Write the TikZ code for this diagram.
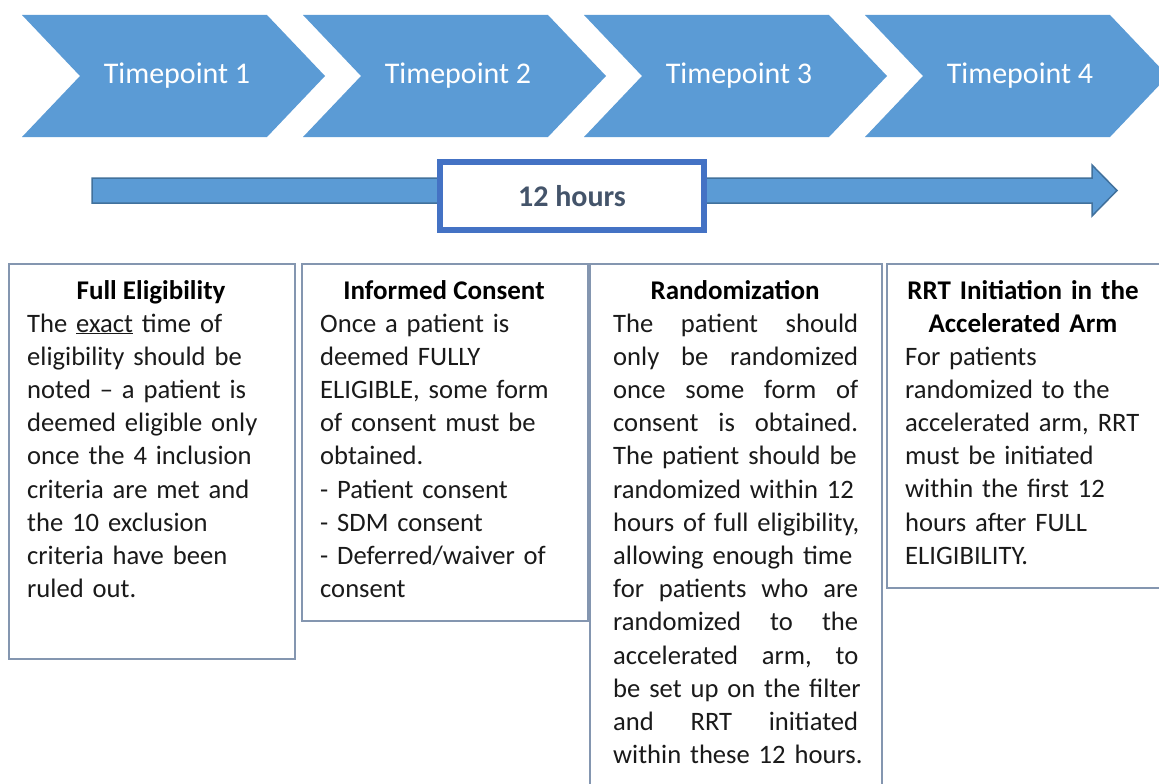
\documentclass[tikz,border=0pt]{standalone}
\usepackage{fontspec}
\setmainfont{Carlito}
\definecolor{chevblue}{HTML}{5B9BD5}
\definecolor{arrowline}{HTML}{41719C}
\definecolor{hoursline}{HTML}{4472C4}
\definecolor{hourstext}{HTML}{44546A}
\definecolor{boxline}{HTML}{8496B0}
\definecolor{bodytext}{HTML}{1A1A1A}
\tikzset{
  chev/.style={fill=chevblue},
  tp/.style={text=white, font=\fontsize{30}{36}\selectfont, inner sep=0pt},
  hoursbox/.style={draw=hoursline, line width=6pt, fill=white, minimum width=264pt, minimum height=68pt, inner sep=0pt, text=hourstext, font=\fontsize{30}{34}\selectfont\bfseries},
  infobox/.style={draw=boxline, line width=1.5pt, fill=white, anchor=north west, inner sep=0pt},
  boxtitle/.style={font=\fontsize{27}{33.2}\selectfont\bfseries, anchor=base, inner sep=0pt, align=center},
  boxbody/.style={font=\fontsize{26.6}{33.2}\selectfont, text=bodytext, anchor=base west, inner sep=0pt, execute at begin node=\raggedright},
}
\newcommand{\jline}[1]{\leavevmode\hbox to 245pt{#1}}
\begin{document}
\begin{tikzpicture}[x=1pt,y=-1pt]
\useasboundingbox (0,0) rectangle (1159,784);
\fill[white] (0,0) rectangle (1159,784);
% chevrons
\foreach \L/\n in {22/1,303/2,584/3,865/4} {
  \fill[chev] (\L,15) -- (\L+245,15) -- (\L+303,76) -- (\L+245,137) -- (\L,137) -- (\L+58,76) -- cycle;
  \node[tp] (tp\n) at (\L+155,76) {Timepoint \n};
}
% timeline arrow
\fill[chevblue, draw=arrowline, line width=1.5pt] (92,178) -- (1092,178) -- (1092,165) -- (1117,190.5) -- (1092,216) -- (1092,203) -- (92,203) -- cycle;
\node[hoursbox] (hours) at (572,196) {12 hours};
% boxes
\node[infobox, minimum width=286pt, minimum height=395pt] (b1) at (8,263) {};
\node[infobox, minimum width=286pt, minimum height=357pt] (b2) at (301,263) {};
\node[infobox, minimum width=292pt, minimum height=540pt] (b3) at (589,263) {};
\node[infobox, minimum width=300pt, minimum height=324pt] (b4) at (886,263) {};
% titles
\node[boxtitle] (t1) at (151,299) {Full Eligibility};
\node[boxtitle] (t2) at (444,299) {Informed Consent};
\node[boxtitle] (t3) at (735,299) {Randomization};
\node[boxtitle, text width=280pt] (t4) at (1023,299) {RRT Initiation in the\\Accelerated Arm};
% bodies
\node[boxbody, text width=260pt] (d1) at (27,332) {The \underline{exact} time of\\eligibility should be\\noted – a patient is\\deemed eligible only\\once the 4 inclusion\\criteria are met and\\the 10 exclusion\\criteria have been\\ruled out.};
\node[boxbody, text width=260pt] (d2) at (320,332) {Once a patient is\\deemed FULLY\\ELIGIBLE, some form\\of consent must be\\obtained.\\- Patient consent\\- SDM consent\\- Deferred/waiver of\\consent};
\node[boxbody, text width=262pt] (d3) at (613,332) {%
\jline{The\hfill patient\hfill should}\\
\jline{only\hfill be\hfill randomized}\\
\jline{once\hfill some\hfill form\hfill of}\\
\jline{consent\hfill is\hfill obtained.}\\
The patient should be\\
randomized within 12\\
hours of full eligibility,\\
allowing enough time\\
\jline{for\hfill patients\hfill who\hfill are}\\
\jline{randomized\hfill to\hfill the}\\
\jline{accelerated\hfill arm,\hfill to}\\
be set up on the filter\\
\jline{and\hfill RRT\hfill initiated}\\
within these 12 hours.};
\node[boxbody, text width=262pt] (d4) at (905,365) {For patients\\randomized to the\\accelerated arm, RRT\\must be initiated\\within the first 12\\hours after FULL\\ELIGIBILITY.};
\end{tikzpicture}
\end{document}
